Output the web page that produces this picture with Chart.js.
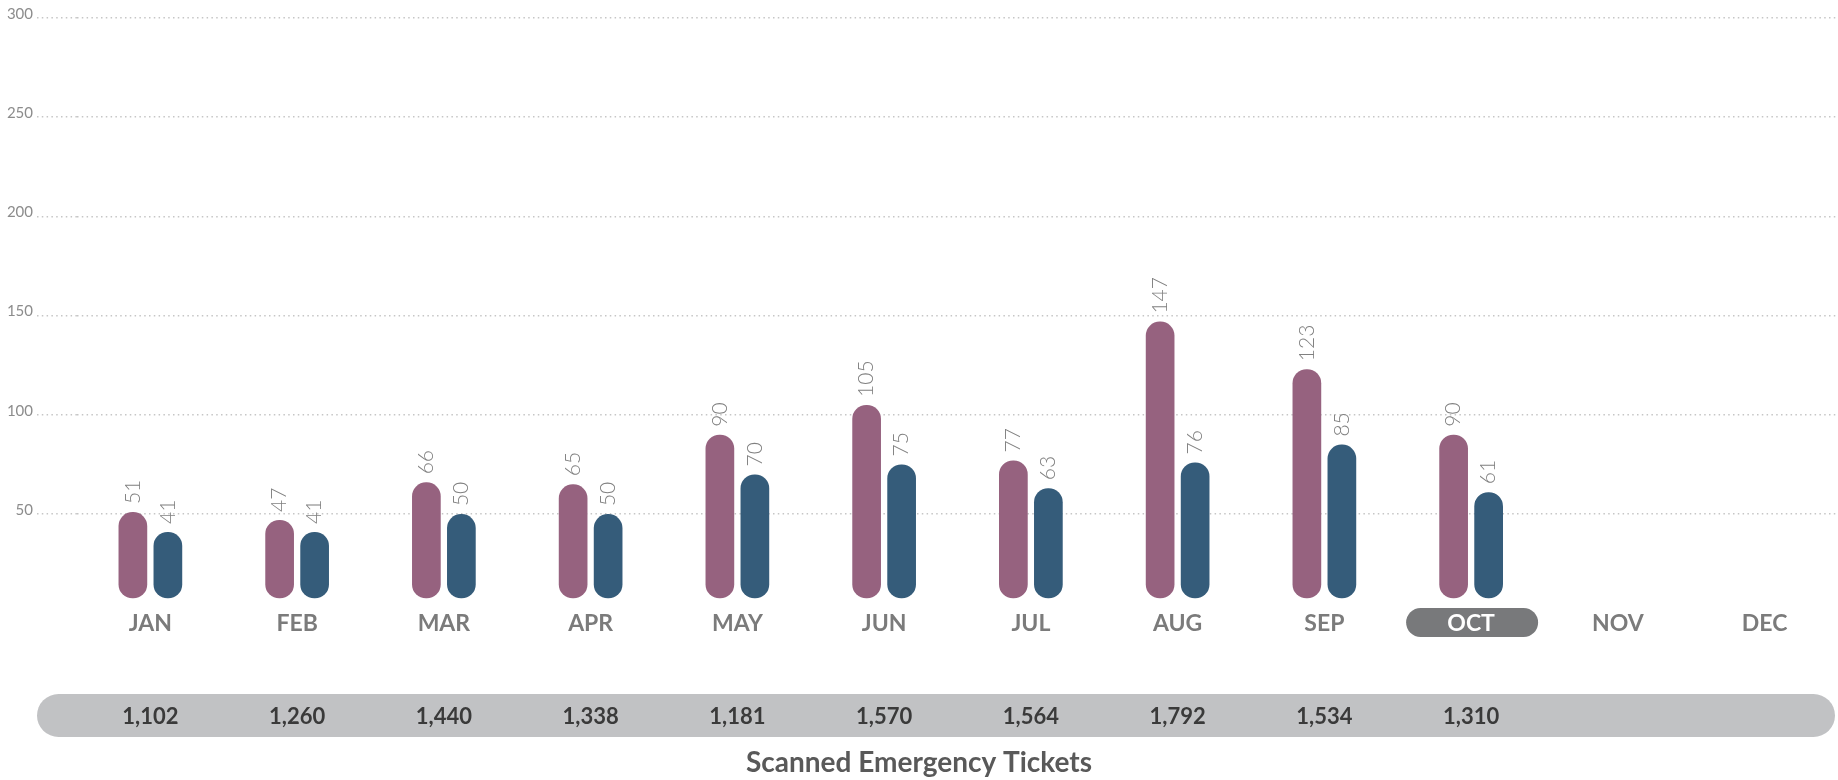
<!DOCTYPE html>
<html>
<head>
<meta charset="utf-8">
<title>Scanned Emergency Tickets</title>
<script src="https://cdn.jsdelivr.net/npm/chart.js@4.4.1/dist/chart.umd.min.js"></script>
<style>
    html, body { margin: 0; padding: 0; background: #fff; }
    #wrap { width: 1838px; height: 780px; position: relative; }
</style>
</head>
<body>
<div id="wrap"><canvas id="chartTickets"></canvas></div>
<script>
// Monthly data
const months = ['JAN', 'FEB', 'MAR', 'APR', 'MAY', 'JUN', 'JUL', 'AUG', 'SEP', 'OCT', 'NOV', 'DEC'];
const valuesA = [51, 47, 66, 65, 90, 105, 77, 147, 123, 90, null, null];
const valuesB = [41, 41, 50, 50, 70, 75, 63, 76, 85, 61, null, null];
const totals = ['1,102', '1,260', '1,440', '1,338', '1,181', '1,570', '1,564', '1,792', '1,534', '1,310', '', ''];
const yTicks = [50, 100, 150, 200, 250, 300];
const currentMonth = 'OCT';

const currentIdx = months.indexOf(currentMonth);
const FONT = 'Lato, "Open Sans", sans-serif';
const dots = [1.5, 3.3];
const Y_MIN = 7.5;

// Gray band behind the totals row + pill behind the current month
const backdrop = {
    id: 'backdrop',
    beforeDraw(chart) {
        const c = chart.ctx;
        const x = chart.scales.x;
        c.save();
        c.fillStyle = '#c1c2c4';
        c.beginPath();
        c.roundRect(37, 694, 1798, 43, 21.5);
        c.fill();

        const px = x.getPixelForTick(currentIdx);
        c.fillStyle = '#78797b';
        c.beginPath();
        c.roundRect(px - 65, 608, 132, 29, 14.5);
        c.fill();
        c.restore();
    }
};

// Rotated value above each bar
const valueLabels = {
    id: 'valueLabels',
    afterDatasetsDraw(chart) {
        const c = chart.ctx;
        c.save();
        c.font = '300 21px ' + FONT;
        c.fillStyle = '#808080';
        c.textAlign = 'left';
        c.textBaseline = 'middle';
        chart.data.datasets.forEach(function(ds, i) {
            const meta = chart.getDatasetMeta(i);
            meta.data.forEach(function(bar, j) {
                const v = ds.data[j];
                if (v === null || v === undefined) return;
                c.save();
                c.translate(bar.x, bar.y - 8);
                c.rotate(-Math.PI / 2);
                c.fillText(String(v), 0, 0);
                c.restore();
            });
        });
        c.restore();
    }
};

const barStyle = {
    base: Y_MIN,
    borderRadius: 14,
    borderSkipped: false,
    categoryPercentage: 0.477,
    barPercentage: 0.82
};

const ctx = document.getElementById('chartTickets').getContext('2d');
const chart = new Chart(ctx, {
    type: 'bar',
    data: {
        labels: months,
        datasets: [
            Object.assign({ label: 'A', data: valuesA, backgroundColor: '#96627f' }, barStyle),
            Object.assign({ label: 'B', data: valuesB, backgroundColor: '#355c7a' }, barStyle)
        ]
    },
    options: {
        responsive: true,
        maintainAspectRatio: false,
        animation: false,
        layout: { padding: { top: 18, left: 0, right: 0, bottom: 0 } },
        plugins: {
            legend: { display: false },
            tooltip: { enabled: false },
            title: {
                display: true,
                position: 'bottom',
                text: 'Scanned Emergency Tickets',
                color: '#595959',
                font: { family: FONT, size: 28, weight: 'bold' },
                padding: { top: 0, bottom: 0 }
            }
        },
        scales: {
            x: {
                offset: true,
                grid: { display: false },
                border: { display: false },
                ticks: {
                    autoSkip: false,
                    maxRotation: 0,
                    padding: 3,
                    font: { family: FONT, size: 23, weight: 'bold' },
                    color: function(c) {
                        return c.index === currentIdx ? '#ffffff' : '#7b7b7b';
                    }
                },
                afterFit: function(s) { s.height = 40; }
            },
            y: {
                min: Y_MIN,
                max: 300,
                beginAtZero: false,
                grid: {
                    color: '#c6c6c6',
                    lineWidth: 1.5,
                    tickLength: 40,
                    tickColor: '#c6c6c6',
                    tickBorderDash: dots
                },
                border: { display: false, dash: dots },
                ticks: {
                    padding: 4,
                    labelOffset: -4,
                    color: '#8c8c8c',
                    font: { family: FONT, size: 15 }
                },
                afterBuildTicks: function(s) {
                    s.ticks = yTicks.map(function(v) { return { value: v }; });
                },
                afterFit: function(s) { s.width = 77; }
            },
            x2: {
                type: 'category',
                position: 'bottom',
                weight: 1,
                labels: totals,
                offset: true,
                grid: { display: false },
                border: { display: false },
                ticks: {
                    autoSkip: false,
                    maxRotation: 0,
                    padding: 57,
                    color: '#3a3a3a',
                    font: { family: FONT, size: 22, weight: 'bold' }
                },
                afterFit: function(s) { s.height = 108; }
            }
        }
    },
    plugins: [backdrop, valueLabels]
});
</script>
</body>
</html>
